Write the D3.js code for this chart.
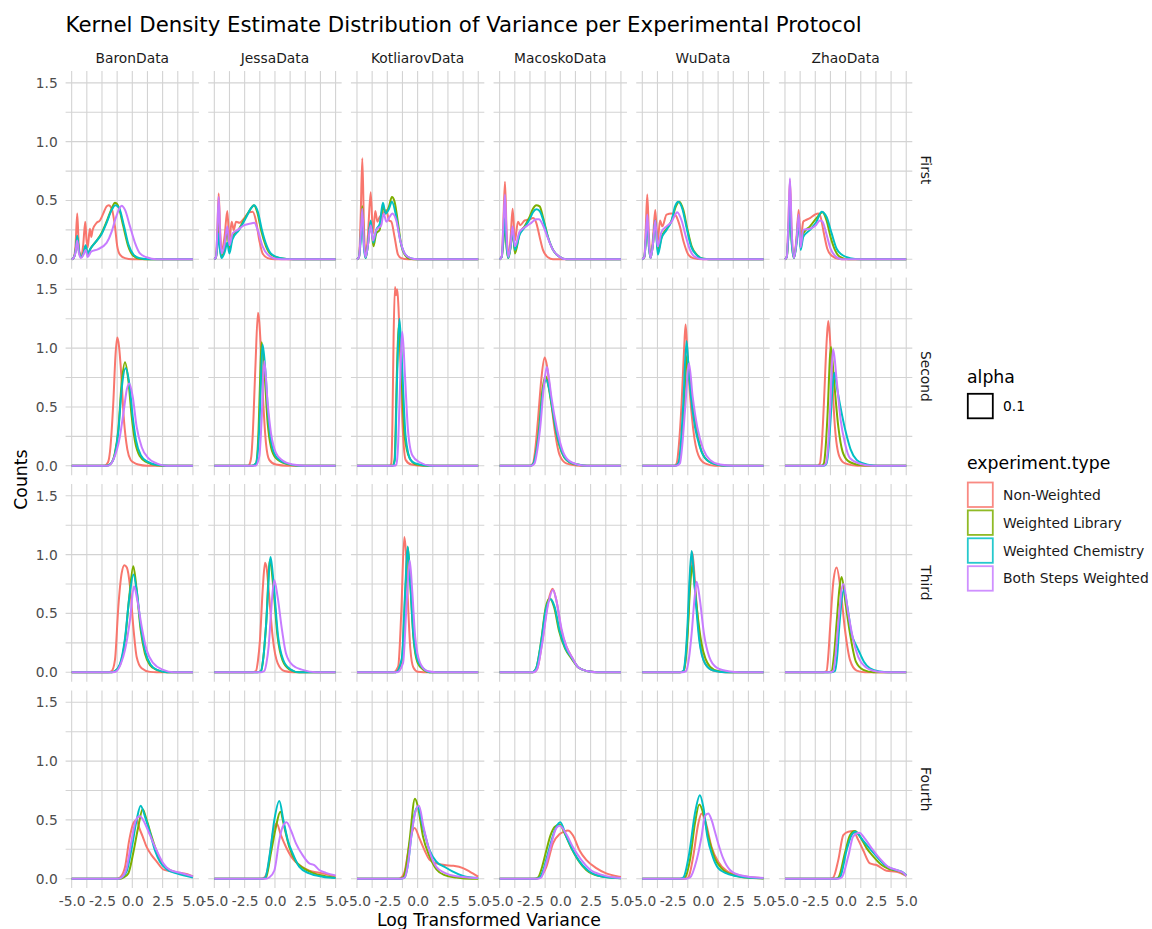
<!DOCTYPE html>
<html><head><meta charset="utf-8">
<script src="https://cdn.jsdelivr.net/npm/d3@7"></script>
<style>body{margin:0;background:#fff}svg{display:block}text{font-family:"DejaVu Sans",sans-serif}</style>
</head><body><svg id="chart" width="1152" height="929"></svg>
<script>
// ---------- categories / labels ----------
const columns = ["BaronData","JessaData","KotliarovData","MacoskoData","WuData","ZhaoData"];
const rows = ["First","Second","Third","Fourth"];
const seriesNames = ["Non-Weighted","Weighted Library","Weighted Chemistry","Both Steps Weighted"];
const seriesColors = ["#F8766D","#7CAE00","#00BFC4","#C77CFF"];
const xTicks = [-5,-2.5,0,2.5,5];
const xTickLabels = ["-5.0","-2.5","0.0","2.5","5.0"];
const xMinor = [-3.75,-1.25,1.25,3.75];
const yTicks = [0,0.5,1.0,1.5];
const yTickLabels = ["0.0","0.5","1.0","1.5"];
const yMinor = [0.25,0.75,1.25];
const alphaLegend = ["0.1"];

// ---------- density curves: [logVariance, density], order = seriesNames ----------
// Row "First"
const baronFirst = [
 [[-5,0],[-4.85,0.01],[-4.68,0.12],[-4.54,0.39],[-4.42,0.13],[-4.25,0.02],[-4.05,0.12],[-3.88,0.32],[-3.78,0.17],[-3.68,0.1],[-3.5,0.26],[-3.38,0.19],[-3.27,0.25],[-2.94,0.31],[-2.67,0.33],[-2.39,0.39],[-2.12,0.45],[-1.95,0.46],[-1.7,0.43],[-1.43,0.28],[-1.24,0.11],[-1.02,0.04],[-0.6,0.01],[0,0],[5,0]],
 [[-5,0],[-4.85,0.01],[-4.68,0.07],[-4.54,0.19],[-4.4,0.07],[-4.2,0.02],[-4.0,0.06],[-3.85,0.11],[-3.68,0.04],[-3.45,0.09],[-3.0,0.15],[-2.55,0.22],[-2.12,0.32],[-1.7,0.43],[-1.43,0.48],[-1.15,0.45],[-0.74,0.28],[-0.33,0.11],[0.08,0.03],[0.6,0.005],[1.5,0],[5,0]],
 [[-5,0],[-4.85,0.01],[-4.68,0.07],[-4.54,0.2],[-4.4,0.07],[-4.2,0.02],[-4.0,0.06],[-3.85,0.12],[-3.68,0.05],[-3.45,0.09],[-3.0,0.15],[-2.55,0.21],[-2.12,0.31],[-1.7,0.42],[-1.4,0.46],[-1.1,0.44],[-0.7,0.29],[-0.3,0.12],[0.1,0.04],[0.6,0.01],[1.5,0],[5,0]],
 [[-5,0],[-4.85,0.01],[-4.68,0.06],[-4.54,0.16],[-4.4,0.05],[-4.23,0.01],[-4.02,0.04],[-3.85,0.08],[-3.68,0.02],[-3.4,0.065],[-2.85,0.085],[-2.12,0.14],[-1.7,0.235],[-1.43,0.33],[-1.07,0.43],[-0.88,0.455],[-0.6,0.42],[-0.19,0.28],[0.22,0.14],[0.63,0.05],[1.18,0.017],[2,0],[5,0]]
];
const jessaFirst = [
 [[-5,0],[-4.86,0.02],[-4.75,0.25],[-4.64,0.56],[-4.52,0.25],[-4.4,0.08],[-4.15,0.2],[-3.93,0.41],[-3.76,0.16],[-3.57,0.32],[-3.4,0.25],[-3.21,0.32],[-2.93,0.31],[-2.53,0.35],[-2.12,0.40],[-1.84,0.405],[-1.57,0.33],[-1.29,0.16],[-1.02,0.05],[-0.6,0.01],[0,0],[5,0]],
 [[-5,0],[-4.86,0.02],[-4.75,0.15],[-4.64,0.31],[-4.52,0.1],[-4.4,0.02],[-4.15,0.1],[-3.93,0.25],[-3.76,0.08],[-3.51,0.19],[-2.96,0.26],[-2.41,0.36],[-2.0,0.43],[-1.76,0.46],[-1.43,0.39],[-1.15,0.25],[-0.74,0.11],[-0.33,0.04],[0.4,0.01],[1.5,0],[5,0]],
 [[-5,0],[-4.86,0.02],[-4.75,0.1],[-4.64,0.22],[-4.52,0.07],[-4.4,0.01],[-4.15,0.06],[-3.93,0.14],[-3.76,0.05],[-3.51,0.17],[-2.96,0.25],[-2.41,0.35],[-2.0,0.43],[-1.7,0.46],[-1.4,0.40],[-1.1,0.26],[-0.7,0.12],[-0.3,0.045],[0.4,0.012],[1.5,0],[5,0]],
 [[-5,0],[-4.86,0.02],[-4.75,0.24],[-4.64,0.53],[-4.52,0.2],[-4.4,0.05],[-4.15,0.13],[-3.93,0.28],[-3.76,0.12],[-3.49,0.22],[-3.07,0.25],[-2.53,0.29],[-1.98,0.305],[-1.70,0.31],[-1.43,0.25],[-1.02,0.11],[-0.6,0.04],[0.1,0.005],[1,0],[5,0]]
];
const kotliarovFirst = [
 [[-5,0],[-4.83,0.02],[-4.7,0.35],[-4.56,0.86],[-4.43,0.3],[-4.29,0.02],[-4.1,0.2],[-3.87,0.57],[-3.68,0.22],[-3.49,0.41],[-3.32,0.32],[-3.13,0.36],[-2.86,0.39],[-2.58,0.42],[-2.36,0.33],[-2.17,0.32],[-1.9,0.19],[-1.62,0.04],[-1.35,0.01],[-0.8,0],[5,0]],
 [[-5,0],[-4.83,0.02],[-4.7,0.2],[-4.56,0.45],[-4.43,0.15],[-4.29,0.01],[-4.1,0.12],[-3.87,0.32],[-3.65,0.11],[-3.41,0.22],[-3.13,0.25],[-2.86,0.45],[-2.64,0.39],[-2.36,0.45],[-2.12,0.53],[-1.9,0.49],[-1.62,0.31],[-1.35,0.12],[-1.07,0.04],[-0.66,0.005],[0,0],[5,0]],
 [[-5,0],[-4.83,0.02],[-4.7,0.15],[-4.56,0.33],[-4.43,0.1],[-4.29,0.01],[-4.1,0.12],[-3.87,0.33],[-3.65,0.14],[-3.41,0.25],[-3.13,0.3],[-2.86,0.48],[-2.64,0.39],[-2.36,0.43],[-2.12,0.49],[-1.76,0.36],[-1.43,0.16],[-1.07,0.05],[-0.6,0.01],[0,0],[5,0]],
 [[-5,0],[-4.83,0.02],[-4.7,0.2],[-4.56,0.43],[-4.43,0.14],[-4.29,0.02],[-4.1,0.12],[-3.87,0.29],[-3.68,0.16],[-3.41,0.25],[-3.0,0.29],[-2.8,0.39],[-2.58,0.32],[-2.31,0.36],[-2.09,0.39],[-1.76,0.33],[-1.43,0.16],[-1.07,0.05],[-0.6,0.01],[0,0],[5,0]]
];
const macoskoFirst = [
 [[-5,0],[-4.83,0.02],[-4.7,0.3],[-4.56,0.66],[-4.43,0.25],[-4.29,0.02],[-4.1,0.18],[-3.93,0.43],[-3.74,0.16],[-3.49,0.32],[-3.3,0.29],[-2.94,0.33],[-2.53,0.34],[-2.25,0.35],[-1.98,0.31],[-1.70,0.19],[-1.43,0.08],[-1.02,0.017],[-0.6,0],[5,0]],
 [[-5,0],[-4.83,0.02],[-4.7,0.14],[-4.56,0.30],[-4.43,0.1],[-4.29,0.01],[-4.1,0.1],[-3.93,0.25],[-3.74,0.05],[-3.35,0.22],[-2.94,0.28],[-2.53,0.36],[-2.25,0.43],[-1.98,0.46],[-1.70,0.45],[-1.43,0.36],[-1.02,0.19],[-0.6,0.08],[-0.05,0.02],[0.5,0],[5,0]],
 [[-5,0],[-4.83,0.02],[-4.7,0.16],[-4.56,0.35],[-4.43,0.12],[-4.29,0.01],[-4.1,0.1],[-3.93,0.25],[-3.74,0.08],[-3.35,0.21],[-2.94,0.27],[-2.53,0.34],[-2.25,0.40],[-1.98,0.425],[-1.70,0.41],[-1.43,0.34],[-1.02,0.19],[-0.6,0.08],[-0.05,0.02],[0.5,0],[5,0]],
 [[-5,0],[-4.83,0.02],[-4.7,0.26],[-4.56,0.55],[-4.43,0.2],[-4.29,0.02],[-4.1,0.12],[-3.93,0.28],[-3.74,0.11],[-3.35,0.235],[-2.8,0.28],[-2.39,0.31],[-1.98,0.34],[-1.76,0.34],[-1.43,0.29],[-1.02,0.18],[-0.6,0.08],[-0.05,0.02],[0.5,0],[5,0]]
];
const wuFirst = [
 [[-5,0],[-4.83,0.02],[-4.72,0.25],[-4.59,0.55],[-4.45,0.2],[-4.32,0.01],[-4.12,0.18],[-3.93,0.42],[-3.74,0.14],[-3.54,0.33],[-3.35,0.28],[-3.0,0.38],[-2.58,0.39],[-2.23,0.37],[-1.9,0.28],[-1.57,0.14],[-1.21,0.04],[-0.8,0.01],[0,0],[5,0]],
 [[-5,0],[-4.83,0.02],[-4.72,0.14],[-4.59,0.31],[-4.45,0.1],[-4.32,0.01],[-4.12,0.13],[-3.93,0.33],[-3.72,0.065],[-3.41,0.19],[-3.0,0.26],[-2.58,0.33],[-2.23,0.45],[-1.95,0.49],[-1.62,0.42],[-1.29,0.26],[-0.93,0.11],[-0.52,0.04],[0.03,0.005],[1,0],[5,0]],
 [[-5,0],[-4.83,0.02],[-4.72,0.14],[-4.59,0.3],[-4.45,0.1],[-4.32,0.01],[-4.12,0.13],[-3.93,0.33],[-3.72,0.04],[-3.41,0.18],[-3.0,0.25],[-2.58,0.33],[-2.3,0.45],[-2.03,0.49],[-1.7,0.43],[-1.35,0.27],[-0.98,0.11],[-0.55,0.04],[0.03,0.005],[1,0],[5,0]],
 [[-5,0],[-4.83,0.02],[-4.72,0.18],[-4.59,0.38],[-4.45,0.13],[-4.32,0.01],[-4.12,0.13],[-3.93,0.33],[-3.74,0.11],[-3.41,0.235],[-3.0,0.28],[-2.58,0.32],[-2.23,0.39],[-2.12,0.40],[-1.76,0.33],[-1.4,0.19],[-1.07,0.08],[-0.66,0.02],[0,0],[5,0]]
];
const zhaoFirst = [
 [[-5,0],[-4.85,0.02],[-4.72,0.3],[-4.59,0.67],[-4.45,0.25],[-4.26,0.01],[-4.05,0.18],[-3.87,0.42],[-3.71,0.16],[-3.49,0.32],[-3.35,0.33],[-2.94,0.35],[-2.53,0.38],[-2.25,0.39],[-2.06,0.36],[-1.79,0.22],[-1.51,0.09],[-1.15,0.03],[-0.6,0.005],[0,0],[5,0]],
 [[-5,0],[-4.85,0.02],[-4.72,0.2],[-4.59,0.47],[-4.45,0.16],[-4.26,0.01],[-4.05,0.15],[-3.87,0.36],[-3.71,0.1],[-3.49,0.22],[-2.94,0.28],[-2.4,0.35],[-1.9,0.40],[-1.57,0.33],[-1.24,0.19],[-0.88,0.08],[-0.47,0.02],[0.2,0],[5,0]],
 [[-5,0],[-4.85,0.02],[-4.72,0.2],[-4.59,0.45],[-4.45,0.15],[-4.26,0.01],[-4.05,0.13],[-3.87,0.32],[-3.71,0.08],[-3.49,0.19],[-2.94,0.25],[-2.4,0.32],[-1.98,0.405],[-1.57,0.36],[-1.15,0.22],[-0.74,0.09],[-0.33,0.04],[0.36,0.01],[1.2,0],[5,0]],
 [[-5,0],[-4.85,0.02],[-4.72,0.3],[-4.59,0.69],[-4.45,0.25],[-4.26,0.01],[-4.05,0.16],[-3.87,0.38],[-3.71,0.1],[-3.49,0.25],[-2.94,0.26],[-2.45,0.29],[-2.12,0.33],[-1.9,0.32],[-1.57,0.21],[-1.24,0.09],[-0.88,0.03],[-0.3,0],[5,0]]
];
// Row "Second"
const baronSecond = [
 [[-5,0],[-2.3,0],[-2.0,0.03],[-1.84,0.12],[-1.57,0.53],[-1.38,0.95],[-1.24,1.09],[-1.1,1.02],[-0.96,0.85],[-0.69,0.39],[-0.41,0.14],[-0.14,0.05],[0.08,0.03],[0.49,0.01],[1.2,0],[5,0]],
 [[-5,0],[-2.1,0],[-1.75,0.02],[-1.43,0.11],[-1.15,0.31],[-0.88,0.70],[-0.6,0.88],[-0.33,0.73],[-0.05,0.42],[0.22,0.21],[0.63,0.08],[1.18,0.03],[2.0,0.005],[3,0],[5,0]],
 [[-5,0],[-2.1,0],[-1.75,0.02],[-1.43,0.10],[-1.15,0.29],[-0.88,0.65],[-0.55,0.83],[-0.25,0.70],[0.03,0.42],[0.3,0.22],[0.7,0.09],[1.25,0.035],[2.0,0.008],[3,0],[5,0]],
 [[-5,0],[-2.0,0],[-1.57,0.05],[-1.02,0.25],[-0.69,0.48],[-0.45,0.65],[-0.25,0.70],[0.03,0.59],[0.36,0.33],[0.77,0.16],[1.32,0.065],[2.0,0.02],[2.8,0],[5,0]]
];
const jessaSecond = [
 [[-5,0],[-2.3,0],[-2.12,0.01],[-1.95,0.08],[-1.84,0.25],[-1.62,0.82],[-1.40,1.30],[-1.18,1.04],[-0.96,0.53],[-0.74,0.19],[-0.47,0.05],[0.08,0.01],[1,0],[5,0]],
 [[-5,0],[-1.9,0],[-1.57,0.02],[-1.35,0.31],[-1.22,0.75],[-1.10,1.05],[-0.88,0.82],[-0.6,0.36],[-0.33,0.16],[0.08,0.065],[0.91,0.017],[2,0],[5,0]],
 [[-5,0],[-1.9,0],[-1.57,0.02],[-1.3,0.3],[-1.15,0.75],[-1.02,1.03],[-0.8,0.82],[-0.52,0.38],[-0.25,0.17],[0.15,0.07],[0.95,0.02],[2,0],[5,0]],
 [[-5,0],[-1.6,0],[-1.29,0.08],[-1.1,0.39],[-0.88,0.89],[-0.6,0.53],[-0.33,0.28],[0.08,0.11],[0.63,0.045],[1.46,0.01],[2.5,0],[5,0]]
];
const kotliarovSecond = [
 [[-5,0],[-2.3,0],[-2.17,0.02],[-2.08,0.35],[-1.98,1.10],[-1.87,1.52],[-1.78,1.45],[-1.68,1.50],[-1.58,1.35],[-1.48,1.10],[-1.26,0.39],[-0.99,0.05],[-0.52,0.01],[0.5,0],[5,0]],
 [[-5,0],[-2.05,0],[-1.9,0.05],[-1.7,0.82],[-1.56,1.2],[-1.48,1.1],[-1.35,0.82],[-1.07,0.25],[-0.66,0.065],[-0.11,0.01],[1,0],[5,0]],
 [[-5,0],[-2.05,0],[-1.88,0.05],[-1.68,0.8],[-1.5,1.25],[-1.29,0.87],[-0.99,0.25],[-0.58,0.05],[-0.17,0.02],[0.5,0.005],[1.5,0],[5,0]],
 [[-5,0],[-1.9,0],[-1.76,0.01],[-1.6,0.2],[-1.48,0.59],[-1.26,1.14],[-1.04,0.76],[-0.8,0.31],[-0.44,0.09],[0.16,0.03],[1.0,0.003],[2,0],[5,0]]
];
const macoskoSecond = [
 [[-5,0],[-2.5,0],[-2.25,0.02],[-2.05,0.15],[-1.84,0.39],[-1.55,0.75],[-1.29,0.92],[-1.1,0.85],[-0.88,0.67],[-0.47,0.31],[-0.05,0.09],[0.49,0.02],[1.32,0.003],[2,0],[5,0]],
 [[-5,0],[-2.45,0],[-2.2,0.02],[-1.98,0.13],[-1.76,0.31],[-1.5,0.62],[-1.21,0.76],[-0.98,0.68],[-0.74,0.53],[-0.33,0.28],[0.22,0.09],[0.77,0.03],[1.87,0.003],[2.5,0],[5,0]],
 [[-5,0],[-2.45,0],[-2.2,0.02],[-1.98,0.12],[-1.74,0.3],[-1.48,0.6],[-1.16,0.73],[-0.93,0.66],[-0.7,0.52],[-0.3,0.28],[0.25,0.09],[0.8,0.03],[1.9,0.003],[2.5,0],[5,0]],
 [[-5,0],[-2.4,0],[-2.12,0.02],[-1.9,0.13],[-1.65,0.33],[-1.35,0.68],[-1.1,0.84],[-0.93,0.74],[-0.74,0.59],[-0.27,0.31],[0.22,0.12],[0.77,0.04],[1.87,0.003],[2.5,0],[5,0]]
];
const wuSecond = [
 [[-5,0],[-2.4,0],[-2.17,0.02],[-1.98,0.18],[-1.76,0.53],[-1.55,1.0],[-1.43,1.20],[-1.3,1.0],[-1.15,0.73],[-0.8,0.31],[-0.38,0.09],[0.16,0.02],[1,0],[5,0]],
 [[-5,0],[-2.3,0],[-2.0,0.02],[-1.8,0.15],[-1.58,0.48],[-1.29,0.94],[-1.12,0.78],[-0.93,0.59],[-0.52,0.31],[-0.11,0.12],[0.58,0.03],[1.5,0.005],[2.5,0],[5,0]],
 [[-5,0],[-2.3,0],[-2.03,0.02],[-1.85,0.15],[-1.62,0.53],[-1.35,1.06],[-1.2,0.85],[-1.02,0.62],[-0.66,0.33],[-0.25,0.16],[0.30,0.05],[1.13,0.01],[2,0],[5,0]],
 [[-5,0],[-2.2,0],[-1.9,0.02],[-1.7,0.18],[-1.48,0.47],[-1.15,0.87],[-0.85,0.59],[-0.47,0.33],[0.03,0.14],[0.58,0.05],[1.4,0.01],[2.5,0],[5,0]]
];
const zhaoSecond = [
 [[-5,0],[-2.35,0],[-2.12,0.02],[-1.95,0.2],[-1.79,0.53],[-1.55,1.08],[-1.43,1.23],[-1.3,1.1],[-1.15,0.82],[-0.88,0.33],[-0.52,0.08],[-0.05,0.02],[1,0],[5,0]],
 [[-5,0],[-2.0,0],[-1.79,0.02],[-1.65,0.15],[-1.51,0.39],[-1.21,1.01],[-0.96,0.73],[-0.6,0.33],[-0.25,0.12],[0.22,0.04],[1.18,0.006],[2,0],[5,0]],
 [[-5,0],[-1.8,0],[-1.57,0.02],[-1.4,0.15],[-1.24,0.39],[-1.05,0.7],[-0.93,0.79],[-0.69,0.65],[-0.33,0.45],[0.03,0.28],[0.41,0.14],[0.91,0.05],[1.46,0.02],[2.28,0.003],[3,0],[5,0]],
 [[-5,0],[-1.85,0],[-1.62,0.02],[-1.45,0.15],[-1.29,0.45],[-1.02,0.99],[-0.74,0.73],[-0.41,0.39],[-0.05,0.19],[0.36,0.065],[1.18,0.017],[2.2,0],[5,0]]
];
// Row "Third"
const baronThird = [
 [[-5,0],[-2.0,0],[-1.7,0.01],[-1.43,0.105],[-1.15,0.56],[-0.88,0.84],[-0.65,0.91],[-0.45,0.89],[-0.19,0.73],[0.08,0.39],[0.36,0.13],[0.77,0.034],[1.46,0.003],[2,0],[5,0]],
 [[-5,0],[-1.7,0],[-1.43,0.01],[-1.02,0.06],[-0.6,0.27],[-0.25,0.64],[0.08,0.90],[0.36,0.70],[0.69,0.36],[1.04,0.16],[1.46,0.06],[2.0,0.02],[2.83,0],[5,0]],
 [[-5,0],[-1.7,0],[-1.43,0.01],[-1.02,0.07],[-0.6,0.29],[-0.25,0.63],[0.1,0.83],[0.38,0.68],[0.72,0.37],[1.08,0.17],[1.5,0.065],[2.05,0.02],[2.9,0],[5,0]],
 [[-5,0],[-1.6,0],[-1.29,0.01],[-0.95,0.07],[-0.6,0.19],[-0.19,0.445],[0.14,0.73],[0.41,0.615],[0.77,0.39],[1.18,0.19],[1.73,0.077],[2.55,0.02],[3.4,0],[5,0]]
];
const jessaThird = [
 [[-5,0],[-1.85,0],[-1.57,0.01],[-1.4,0.1],[-1.24,0.27],[-1.0,0.72],[-0.82,0.93],[-0.68,0.88],[-0.52,0.70],[-0.19,0.30],[0.22,0.077],[0.77,0.01],[1.5,0],[5,0]],
 [[-5,0],[-1.45,0],[-1.15,0.01],[-0.95,0.13],[-0.74,0.39],[-0.41,0.955],[-0.14,0.73],[0.22,0.30],[0.63,0.10],[1.18,0.025],[2.0,0],[5,0]],
 [[-5,0],[-1.45,0],[-1.15,0.01],[-0.95,0.13],[-0.72,0.42],[-0.36,0.98],[-0.1,0.74],[0.25,0.31],[0.66,0.11],[1.2,0.03],[2.0,0],[5,0]],
 [[-5,0],[-1.15,0],[-0.88,0.01],[-0.7,0.08],[-0.52,0.22],[-0.33,0.50],[-0.06,0.785],[0.22,0.64],[0.58,0.36],[0.91,0.16],[1.46,0.06],[2.28,0.02],[3.4,0],[5,0]]
];
const kotliarovThird = [
 [[-5,0],[-2.0,0],[-1.6,0.05],[-1.35,0.5],[-1.1,1.15],[-0.95,1.0],[-0.8,0.6],[-0.6,0.2],[-0.35,0.04],[0,0.005],[1,0],[5,0]],
 [[-5,0],[-1.8,0],[-1.3,0.1],[-1.0,0.7],[-0.8,1.06],[-0.6,0.75],[-0.35,0.3],[0,0.08],[0.5,0.02],[1,0],[5,0]],
 [[-5,0],[-1.8,0],[-1.3,0.12],[-1.0,0.75],[-0.82,1.07],[-0.62,0.78],[-0.35,0.32],[0,0.1],[0.5,0.03],[1,0],[5,0]],
 [[-5,0],[-1.7,0],[-1.2,0.08],[-0.9,0.6],[-0.65,0.95],[-0.45,0.7],[-0.2,0.3],[0.2,0.08],[0.8,0.01],[1.5,0],[5,0]]
];
const macoskoThird = [
 [[-5,0],[-2.2,0],[-1.9,0.03],[-1.5,0.25],[-1.0,0.6],[-0.63,0.71],[-0.3,0.6],[0.1,0.35],[0.5,0.22],[1.0,0.12],[1.5,0.04],[2.2,0.01],[3,0],[5,0]],
 [[-5,0],[-2.3,0],[-2.0,0.03],[-1.6,0.25],[-1.2,0.55],[-0.87,0.63],[-0.5,0.55],[-0.1,0.35],[0.4,0.2],[0.9,0.12],[1.5,0.04],[2.2,0.01],[3,0],[5,0]],
 [[-5,0],[-2.3,0],[-2.0,0.03],[-1.6,0.24],[-1.2,0.53],[-0.8,0.62],[-0.45,0.55],[-0.05,0.35],[0.4,0.21],[0.9,0.13],[1.5,0.04],[2.2,0.01],[3,0],[5,0]],
 [[-5,0],[-2.2,0],[-1.9,0.03],[-1.5,0.24],[-1.0,0.58],[-0.6,0.70],[-0.3,0.6],[0.1,0.37],[0.5,0.22],[1.0,0.12],[1.5,0.04],[2.2,0.01],[3,0],[5,0]]
];
const wuThird = [
 [[-5,0],[-1.9,0],[-1.6,0.01],[-1.42,0.12],[-1.26,0.36],[-1.06,0.8],[-0.88,1.02],[-0.75,0.9],[-0.6,0.68],[-0.25,0.26],[0.2,0.07],[0.9,0.012],[1.8,0],[5,0]],
 [[-5,0],[-1.9,0],[-1.6,0.01],[-1.42,0.11],[-1.26,0.33],[-1.06,0.72],[-0.88,0.91],[-0.7,0.75],[-0.52,0.56],[-0.11,0.24],[0.58,0.048],[1.3,0.008],[2.2,0],[5,0]],
 [[-5,0],[-1.9,0],[-1.62,0.01],[-1.45,0.12],[-1.29,0.36],[-1.1,0.8],[-0.93,1.03],[-0.8,0.9],[-0.66,0.70],[-0.3,0.27],[0.16,0.077],[0.85,0.014],[1.8,0],[5,0]],
 [[-5,0],[-1.7,0],[-1.4,0.01],[-1.15,0.12],[-0.93,0.33],[-0.7,0.62],[-0.52,0.77],[-0.25,0.615],[0.08,0.33],[0.52,0.13],[1.13,0.04],[2.23,0.006],[3,0],[5,0]]
];
const zhaoThird = [
 [[-5,0],[-1.85,0],[-1.57,0.01],[-1.42,0.15],[-1.29,0.36],[-1.0,0.78],[-0.74,0.89],[-0.41,0.70],[-0.05,0.36],[0.36,0.105],[0.91,0.014],[1.6,0],[5,0]],
 [[-5,0],[-1.45,0],[-1.15,0.01],[-0.95,0.15],[-0.74,0.42],[-0.5,0.72],[-0.33,0.81],[0.03,0.56],[0.41,0.30],[0.85,0.09],[1.46,0.02],[2.3,0],[5,0]],
 [[-5,0],[-1.15,0],[-0.88,0.01],[-0.7,0.13],[-0.52,0.39],[-0.14,0.70],[0.14,0.56],[0.49,0.33],[0.91,0.22],[1.18,0.16],[1.51,0.09],[2.01,0.034],[2.83,0.006],[3.5,0],[5,0]],
 [[-5,0],[-1.3,0],[-1.02,0.01],[-0.82,0.15],[-0.6,0.42],[-0.19,0.75],[0.22,0.50],[0.63,0.275],[1.04,0.13],[1.59,0.048],[2.55,0.006],[3.3,0],[5,0]]
];
// Row "Fourth"
const baronFourth = [
 [[-5,0],[-1.3,0],[-1.02,0.01],[-0.6,0.10],[-0.25,0.33],[0.08,0.47],[0.36,0.50],[0.58,0.43],[0.85,0.36],[1.18,0.27],[1.59,0.20],[2.01,0.145],[2.55,0.08],[3.1,0.065],[3.65,0.054],[4.2,0.045],[4.75,0.03],[5,0.018]],
 [[-5,0],[-1.0,0],[-0.74,0.01],[-0.33,0.045],[0.08,0.22],[0.49,0.44],[0.85,0.59],[1.18,0.50],[1.59,0.36],[2.01,0.23],[2.55,0.12],[3.1,0.074],[3.93,0.045],[5,0.017]],
 [[-5,0],[-1.15,0],[-0.88,0.01],[-0.47,0.06],[-0.05,0.26],[0.36,0.50],[0.69,0.62],[1.04,0.53],[1.46,0.39],[1.87,0.24],[2.28,0.145],[2.83,0.08],[3.65,0.045],[5,0.01]],
 [[-5,0],[-1.15,0],[-0.88,0.01],[-0.47,0.09],[-0.05,0.33],[0.3,0.5],[0.63,0.53],[1.04,0.47],[1.46,0.37],[2.01,0.24],[2.55,0.13],[3.1,0.074],[3.93,0.05],[5,0.02]]
];
const jessaFourth = [
 [[-5,0],[-1.15,0],[-0.88,0.01],[-0.6,0.08],[-0.47,0.16],[-0.15,0.40],[0.14,0.47],[0.49,0.37],[0.91,0.27],[1.46,0.17],[2.01,0.116],[2.83,0.068],[3.65,0.05],[4.89,0.023],[5,0.02]],
 [[-5,0],[-1.0,0],[-0.74,0.01],[-0.33,0.22],[0.08,0.44],[0.44,0.57],[0.77,0.44],[1.18,0.27],[1.73,0.145],[2.28,0.094],[3.1,0.05],[4.07,0.023],[5,0.008]],
 [[-5,0],[-1.05,0],[-0.8,0.01],[-0.41,0.22],[-0.05,0.5],[0.36,0.66],[0.69,0.5],[1.05,0.33],[1.46,0.215],[2.01,0.10],[2.83,0.045],[3.93,0.017],[5,0.005]],
 [[-5,0],[-0.75,0],[-0.47,0.01],[-0.05,0.07],[0.36,0.33],[0.63,0.44],[0.96,0.48],[1.32,0.41],[1.73,0.30],[2.28,0.20],[2.83,0.13],[3.24,0.116],[3.65,0.074],[4.2,0.05],[5,0.028]]
];
const kotliarovFourth = [
 [[-5,0],[-1.6,0],[-1.35,0.01],[-1.05,0.07],[-0.8,0.22],[-0.5,0.38],[-0.25,0.43],[0.16,0.34],[0.58,0.24],[0.99,0.16],[1.54,0.13],[2.23,0.116],[2.91,0.11],[3.74,0.09],[4.29,0.06],[5,0.017]],
 [[-5,0],[-1.5,0],[-1.21,0.01],[-0.95,0.1],[-0.66,0.33],[-0.22,0.68],[0.03,0.61],[0.44,0.36],[0.99,0.19],[1.54,0.08],[2.23,0.03],[3.19,0.01],[4.5,0],[5,0]],
 [[-5,0],[-1.35,0],[-1.07,0.01],[-0.8,0.12],[-0.52,0.36],[-0.25,0.55],[0.0,0.61],[0.44,0.44],[0.99,0.24],[1.54,0.145],[2.23,0.10],[2.91,0.06],[3.74,0.023],[5,0.005]],
 [[-5,0],[-1.35,0],[-1.07,0.01],[-0.8,0.12],[-0.52,0.36],[-0.2,0.56],[0.11,0.62],[0.49,0.44],[0.99,0.23],[1.54,0.10],[2.23,0.05],[3.19,0.02],[4.97,0.005]]
];
const macoskoFourth = [
 [[-5,0],[-2.0,0],[-1.7,0.01],[-1.15,0.10],[-0.6,0.30],[-0.05,0.38],[0.3,0.40],[0.63,0.41],[1.04,0.37],[1.59,0.24],[2.14,0.16],[2.97,0.09],[3.79,0.045],[4.89,0.017],[5,0.015]],
 [[-5,0],[-2.15,0],[-1.84,0.01],[-1.5,0.1],[-1.15,0.24],[-0.8,0.37],[-0.47,0.44],[-0.05,0.46],[0.36,0.385],[0.91,0.26],[1.46,0.16],[2.14,0.074],[3.24,0.023],[5,0.004]],
 [[-5,0],[-2.0,0],[-1.7,0.01],[-1.35,0.09],[-1.02,0.215],[-0.38,0.43],[0.0,0.48],[0.49,0.36],[1.04,0.24],[1.59,0.145],[2.28,0.07],[3.52,0.017],[5,0.004]],
 [[-5,0],[-1.85,0],[-1.57,0.01],[-1.25,0.1],[-0.88,0.24],[-0.33,0.43],[-0.05,0.45],[0.49,0.38],[1.04,0.27],[1.73,0.16],[2.42,0.08],[3.52,0.03],[5,0.005]]
];
const wuFourth = [
 [[-5,0],[-1.5,0],[-1.21,0.01],[-0.8,0.19],[-0.38,0.47],[-0.11,0.555],[0.25,0.47],[0.71,0.27],[1.26,0.145],[1.95,0.068],[3.05,0.028],[4.2,0.01],[5,0.004]],
 [[-5,0],[-1.75,0],[-1.48,0.01],[-1.07,0.16],[-0.66,0.47],[-0.30,0.63],[0.03,0.555],[0.44,0.36],[0.99,0.17],[1.54,0.088],[2.5,0.03],[3.5,0.01],[5,0.002]],
 [[-5,0],[-1.9,0],[-1.62,0.01],[-1.13,0.215],[-0.66,0.555],[-0.25,0.71],[0.03,0.61],[0.36,0.36],[0.8,0.19],[1.26,0.09],[1.95,0.045],[3.05,0.017],[5,0.003]],
 [[-5,0],[-1.35,0],[-1.07,0.01],[-0.52,0.16],[-0.11,0.36],[0.16,0.53],[0.44,0.555],[0.71,0.50],[0.99,0.40],[1.26,0.30],[1.68,0.17],[2.23,0.074],[3.05,0.03],[5,0.006]]
];
const zhaoFourth = [
 [[-5,0],[-1.3,0],[-1.02,0.01],[-0.6,0.16],[-0.19,0.37],[0.22,0.40],[0.63,0.405],[1.04,0.33],[1.46,0.24],[2.01,0.13],[2.55,0.116],[3.38,0.068],[4.2,0.06],[5,0.025]],
 [[-5,0],[-0.9,0],[-0.6,0.01],[-0.05,0.22],[0.36,0.37],[0.77,0.405],[1.18,0.36],[1.73,0.26],[2.28,0.19],[2.97,0.116],[3.65,0.08],[4.48,0.06],[5,0.026]],
 [[-5,0],[-0.75,0],[-0.47,0.01],[0.08,0.24],[0.49,0.37],[0.82,0.40],[1.32,0.34],[1.87,0.27],[2.55,0.19],[3.24,0.116],[3.93,0.08],[4.62,0.06],[5,0.03]],
 [[-5,0],[-0.6,0],[-0.33,0.01],[0.22,0.19],[0.63,0.36],[1.13,0.39],[1.59,0.34],[2.14,0.26],[2.83,0.17],[3.52,0.10],[4.2,0.074],[4.75,0.05],[5,0.023]]
];

const panelData = [
  [baronFirst, jessaFirst, kotliarovFirst, macoskoFirst, wuFirst, zhaoFirst],
  [baronSecond, jessaSecond, kotliarovSecond, macoskoSecond, wuSecond, zhaoSecond],
  [baronThird, jessaThird, kotliarovThird, macoskoThird, wuThird, zhaoThird],
  [baronFourth, jessaFourth, kotliarovFourth, macoskoFourth, wuFourth, zhaoFourth]
];

// ---------- drawing ----------
const svg = d3.select("#chart");
svg.append("rect").attr("width",1152).attr("height",929).attr("fill","#fff");

const left0 = 65.6, stepX = 142.66, panelW = 133.4;
const top0 = 71.1, stepY = 206.47, panelH = 197.6;
const gridColor = "#d3d3d3";
const smallFont = 13.8, titleFont = 17.3;

const x = d3.scaleLinear().domain([-5.5,5.5]).range([0,panelW]);
const y = d3.scaleLinear().domain([-0.08,1.6]).range([panelH,0]);
const line = d3.line().x(d=>x(d[0])).y(d=>y(d[1])).curve(d3.curveMonotoneX);

rows.forEach((rowName,r)=>{
  columns.forEach((colName,c)=>{
    const g = svg.append("g").attr("transform",`translate(${left0+c*stepX},${top0+r*stepY})`);
    g.selectAll("line.hg").data(yMinor.concat(yTicks)).join("line").attr("class","hg")
      .attr("x1",0).attr("x2",panelW).attr("y1",d=>y(d)).attr("y2",d=>y(d))
      .attr("stroke",gridColor).attr("stroke-width",1.1);
    g.selectAll("line.vg").data(xMinor.concat(xTicks)).join("line").attr("class","vg")
      .attr("y1",0).attr("y2",panelH).attr("x1",d=>x(d)).attr("x2",d=>x(d))
      .attr("stroke",gridColor).attr("stroke-width",1.1);
    g.selectAll("path.dens").data(panelData[r][c]).join("path").attr("class","dens")
      .attr("d",line).attr("fill","none")
      .attr("stroke",(d,i)=>seriesColors[i]).attr("stroke-width",2)
      .attr("stroke-linejoin","round");
    if(c===0){
      const ax = g.append("g").attr("transform","translate(-7.8,0)")
        .call(d3.axisLeft(y).tickValues(yTicks).tickSize(0).tickPadding(0).tickFormat((d,i)=>yTickLabels[i]));
      ax.select(".domain").remove();
      ax.selectAll("text").attr("font-family","DejaVu Sans").attr("font-size",smallFont).attr("fill","#4d4d4d");
    }
    if(r===rows.length-1){
      const ax = g.append("g").attr("transform",`translate(0,${panelH+7.8})`)
        .call(d3.axisBottom(x).tickValues(xTicks).tickSize(0).tickPadding(0).tickFormat((d,i)=>xTickLabels[i]));
      ax.select(".domain").remove();
      ax.selectAll("text").attr("font-family","DejaVu Sans").attr("font-size",smallFont).attr("fill","#4d4d4d");
    }
    if(r===0){
      svg.append("text").attr("x",left0+c*stepX+panelW/2).attr("y",top0-8.5)
        .attr("text-anchor","middle").attr("font-size",smallFont).attr("fill","#1a1a1a").text(colName);
    }
  });
  const cy = top0 + r*stepY + panelH/2;
  svg.append("text").attr("transform",`translate(920.5,${cy}) rotate(90)`)
    .attr("text-anchor","middle").attr("font-size",smallFont).attr("fill","#1a1a1a").text(rowName);
});

// titles
svg.append("text").attr("x",left0).attr("y",31.5).attr("font-size",21.3).attr("fill","#000")
  .text("Kernel Density Estimate Distribution of Variance per Experimental Protocol");
svg.append("text").attr("x",left0+(5*stepX+panelW)/2).attr("y",926).attr("text-anchor","middle")
  .attr("font-size",titleFont).attr("fill","#000").text("Log Transformed Variance");
svg.append("text").attr("transform",`translate(27,${top0+(3*stepY+panelH)/2}) rotate(-90)`)
  .attr("text-anchor","middle").attr("font-size",titleFont).attr("fill","#000").text("Counts");

// legend: alpha
const lgX = 967;
svg.append("text").attr("x",lgX).attr("y",382.5).attr("font-size",titleFont).text("alpha");
svg.append("rect").attr("x",lgX+0.8).attr("y",393.8).attr("width",25).attr("height",24.5)
  .attr("fill","#fff").attr("stroke","#000").attr("stroke-width",1.8);
svg.selectAll("text.alab").data(alphaLegend).join("text").attr("class","alab")
  .attr("x",1003).attr("y",406).attr("dominant-baseline","central").attr("font-size",smallFont).text(d=>d);

// legend: experiment.type
svg.append("text").attr("x",lgX).attr("y",468.5).attr("font-size",titleFont).text("experiment.type");
const keyY0 = 481.7, keyStep = 27.9;
svg.selectAll("rect.key").data(seriesNames).join("rect").attr("class","key")
  .attr("x",lgX+0.8).attr("y",(d,i)=>keyY0+i*keyStep+0.8).attr("width",25).attr("height",24.5)
  .attr("fill","#fff").attr("stroke",(d,i)=>seriesColors[i]).attr("stroke-width",1.8).attr("stroke-opacity",0.85);
svg.selectAll("text.klab").data(seriesNames).join("text").attr("class","klab")
  .attr("x",1003).attr("y",(d,i)=>keyY0+i*keyStep+13).attr("dominant-baseline","central")
  .attr("font-size",13.9).attr("fill","#1a1a1a").text(d=>d);
</script></body></html>
